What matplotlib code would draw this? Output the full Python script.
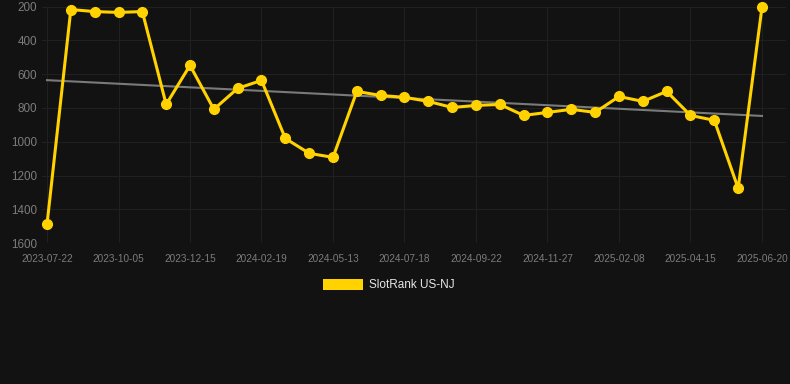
import numpy as np
import matplotlib
matplotlib.use("Agg")
import matplotlib.pyplot as plt
from matplotlib.patches import Rectangle

tick_labels = ["2023-07-22", "2023-10-05", "2023-12-15", "2024-02-19", "2024-05-13",
               "2024-07-18", "2024-09-22", "2024-11-27", "2025-02-08", "2025-04-15",
               "2025-06-20"]
ranks = [1488, 218, 230, 235, 230, 779, 548, 808, 684, 637, 980, 1068, 1092,
         702, 726, 737, 761, 797, 785, 779, 844, 826, 808, 826, 732, 761, 702,
         844, 873, 1275, 204]
series_name = "SlotRank US-NJ"

plt.rcParams["font.family"] = ["Liberation Sans", "DejaVu Sans"]

BG = "#121212"
GOLD = "#FFD200"
W, H = 790, 384
fig = plt.figure(figsize=(W / 100, H / 100), dpi=100, facecolor=BG)
left, right, top, bottom = 42, 786, 6.5, 243.3
ax = fig.add_axes([left / W, 1 - bottom / H, (right - left) / W, (bottom - top) / H])
ax.set_facecolor(BG)

x = np.arange(len(ranks))
# trend line (least squares)
coef = np.polyfit(x, ranks, 1)
ax.plot([x[0], x[-1]], np.polyval(coef, [x[0], x[-1]]), color="#7a7a7a", lw=1.5, zorder=2)
ax.plot(x, ranks, color=GOLD, lw=2.2, marker="o", ms=7, mfc=GOLD, mec=GOLD,
        zorder=3, clip_on=False)

step = 23.83
ax.set_xlim(-5 / step, 30 + 24 / step)
ax.set_ylim(1600, 200)
ax.set_yticks([200, 400, 600, 800, 1000, 1200, 1400, 1600])
ax.set_xticks(np.arange(0, len(ranks), 3))
ax.set_xticklabels(tick_labels)
ax.grid(True, color="#202020", lw=0.8)
for s in ax.spines.values():
    s.set_visible(False)
ax.tick_params(axis="both", length=0, colors="#7c7c7c")
ax.tick_params(axis="y", labelsize=8.4, pad=3.5)
ax.tick_params(axis="x", labelsize=7.2, pad=8)
ax.set_axisbelow(True)

# legend
fig.patches.append(Rectangle((323 / W, 1 - 290 / H), 40 / W, 11 / H,
                             transform=fig.transFigure, facecolor=GOLD, edgecolor="none"))
fig.text(369 / W, 1 - 284.5 / H, series_name, color="#e6e6e6", fontsize=8.5, va="center", ha="left")

fig.savefig("out.png", dpi=100, facecolor=BG)
